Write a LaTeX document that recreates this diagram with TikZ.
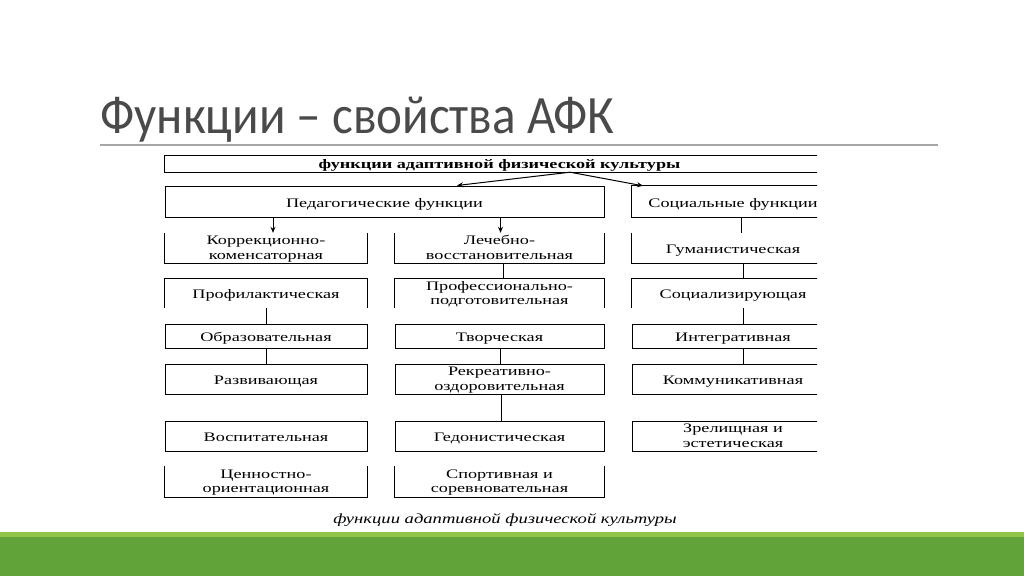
\documentclass[tikz,border=0pt]{standalone}
\usepackage{fontspec}
\setmainfont{Liberation Serif}
\newfontfamily\titlefont[FakeStretch=0.91]{Carlito}
\newfontfamily\dfont[FakeStretch=1.4]{Liberation Serif}
\newfontfamily\capfont[FakeStretch=1.33]{Liberation Serif}
\usetikzlibrary{arrows.meta}
\definecolor{titlegray}{HTML}{4A4A4A}
\definecolor{rulegray}{HTML}{A6A6A6}
\definecolor{greenlight}{HTML}{92C449}
\definecolor{greenmain}{HTML}{62A339}
\newcommand\sst{\rule{0pt}{11.4pt}}
\newcommand\est{\rule[-3.4pt]{0pt}{3.4pt}}
\begin{document}
\begin{tikzpicture}[x=1pt,y=-1pt,
  cell/.style={inner sep=0pt, align=center, font=\dfont\fontsize{13}{14.5}\selectfont},
  one/.style={text height=11pt, text depth=1pt},
  box/.style={cell, draw, line width=1pt},
  ln/.style={line width=1pt},
  arr/.style={line width=1pt, -{Stealth[length=6pt,width=5pt]}},
  colA/.style={minimum width=202pt},
  colB/.style={minimum width=209pt},
  colC/.style={minimum width=202pt},
  rowA/.style={minimum height=30pt},
  rowB/.style={minimum height=29pt},
  rowC/.style={minimum height=24pt},
  rowD/.style={minimum height=30pt},
  rowE/.style={minimum height=30pt},
  rowF/.style={minimum height=31pt}
]
\useasboundingbox (0,0) rectangle (1024,576);
\fill[white] (0,0) rectangle (1024,576);
\node[anchor=base west, text=titlegray, inner sep=0pt, font=\titlefont\fontsize{54}{60}\selectfont] (title) at (100,133) {Функции – свойства АФК};
\draw[rulegray, line width=1.2pt] (100,145) -- (938,145);
\fill[greenlight] (0,532) rectangle (1024,537);
\fill[greenmain] (0,537) rectangle (1024,576);

\begin{scope}
\clip (140,148) rectangle (817,505);
% top box
\node[cell, text height=10pt, text depth=2pt, minimum width=669pt, minimum height=16pt, font=\dfont\bfseries\fontsize{13}{14.5}\selectfont] (top) at (499.5,164) {функции адаптивной физической культуры};
\draw[ln] (top.north east) -- (top.north west) -- (top.south west) -- (top.south east);
% level 2
\node[box, text height=12pt, text depth=0pt, minimum width=439pt, minimum height=31pt] (ped) at (384.5,201.5) {Педагогические функции};
\node[cell, text height=12pt, text depth=0pt, minimum width=202pt, minimum height=31pt] (soc) at (733,201.5) {Социальные функции};
\draw[ln] (soc.north east) -- (soc.north west) -- (soc.south west) -- (soc.south east);
% row 1
\node[cell, colA, rowA] (a1) at (266,248) {\sst Коррекционно-\\коменсаторная\est};
\node[cell, colB, rowA] (b1) at (499.5,248) {\sst Лечебно-\\восстановительная\est};
\node[cell, one, colC, rowA] (c1) at (733,248) {Гуманистическая};
\foreach \n in {a1,b1,c1}
  \draw[ln] (\n.north west) -- (\n.south west) -- (\n.south east) -- (\n.north east);
% row 2
\node[cell, one, colA, rowB] (a2) at (266,293.5) {Профилактическая};
\node[cell, colB, rowB] (b2) at (499.5,293.5) {\sst Профессионально-\\подготовительная\est};
\node[cell, one, colC, rowB] (c2) at (733,293.5) {Социализирующая};
\foreach \n in {a2,b2,c2}
  \draw[ln] (\n.south west) -- (\n.north west) -- (\n.north east) -- (\n.south east);
% row 3
\node[box, one, colA, rowC] (a3) at (266,336) {Образовательная};
\node[box, one, colB, rowC] (b3) at (499.5,336) {Творческая};
\node[box, one, colC, rowC] (c3) at (733,336) {Интегративная};
% row 4
\node[box, one, colA, rowD] (a4) at (266,379) {Развивающая};
\node[box, colB, rowD] (b4) at (499.5,379) {\sst Рекреативно-\\оздоровительная\est};
\node[box, one, colC, rowD] (c4) at (733,379) {Коммуникативная};
% row 5
\node[box, one, colA, rowE] (a5) at (266,436) {Воспитательная};
\node[box, one, colB, rowE] (b5) at (499.5,436) {Гедонистическая};
\node[box, colC, rowE] (c5) at (733,436) {\sst Зрелищная и\\эстетическая\est};
% row 6
\node[cell, colA, rowF] (a6) at (266,481.5) {\sst Ценностно-\\ориентационная\est};
\node[cell, colB, rowF] (b6) at (499.5,481.5) {\sst Спортивная и\\соревновательная\est};
\foreach \n in {a6,b6}
  \draw[ln] (\n.north west) -- (\n.south west) -- (\n.south east) -- (\n.north east);

% connectors
\coordinate (hub) at ([xshift=70.5pt]top.south);
\coordinate (pedin) at ([xshift=72.5pt]ped.north);
\coordinate (socin) at ([xshift=-90pt]soc.north);
\draw[arr] (hub) -- (pedin);
\draw[arr] (hub) -- (socin);
\coordinate (xa) at ([xshift=7pt]a1.north);
\coordinate (xb) at ([xshift=1pt]b1.north);
\draw[arr] (xa |- ped.south) -- (xa);
\draw[arr] (xb |- ped.south) -- (xb);
\coordinate (xc) at ([xshift=8pt]c1.north);
\draw[ln] (xc |- soc.south) -- (xc);
\draw[ln] (a2.south) -- (a3.north);
\draw[ln] (a3.south) -- (a4.north);
\coordinate (xb2) at ([xshift=3.5pt]b1.south);
\draw[ln] (xb2) -- (xb2 |- b2.north);
\draw[ln] ([xshift=1pt]b3.south) -- ([xshift=1pt]b4.north);
\draw[ln] ([xshift=1.5pt]b4.south) -- ([xshift=1.5pt]b5.north);
\coordinate (xc2) at ([xshift=10pt]c1.south);
\draw[ln] (xc2) -- (xc2 |- c2.north);
\draw[ln] (xc2 |- c2.south) -- (xc2 |- c3.north);
\draw[ln] (xc2 |- c3.south) -- (xc2 |- c4.north);
\end{scope}

\node[inner sep=0pt, font=\capfont\itshape\fontsize{14}{15}\selectfont] (cap) at (505,520) {функции адаптивной физической культуры};
\end{tikzpicture}
\end{document}
